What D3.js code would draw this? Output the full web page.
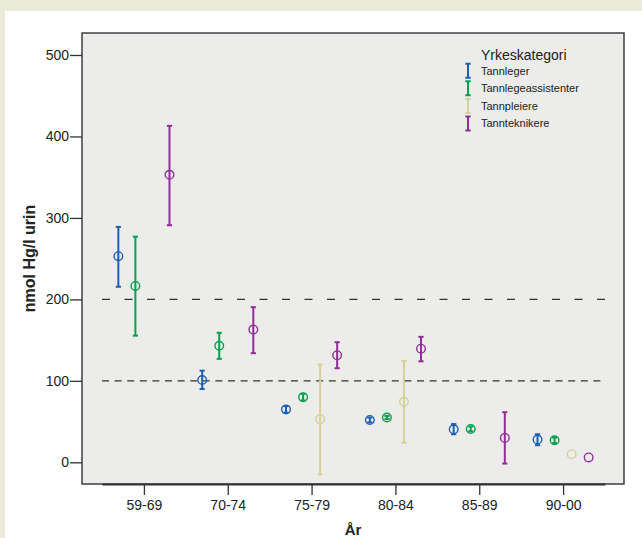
<!DOCTYPE html>
<html>
<head>
<meta charset="utf-8">
<script src="https://cdn.jsdelivr.net/npm/d3@7"></script>
<style>
    body { margin: 0; background: #ecebda; }
    .chart { width: 642px; height: 538px; }
    text { font-family: "Liberation Sans", Arial, sans-serif; fill: #222; }
    .axis text { font-size: 14px; }
    .axis line, .axis path { stroke: #333; }
</style>
</head>
<body>
<div class="chart"></div>
<script>
var categories = ['59-69', '70-74', '75-79', '80-84', '85-89', '90-00'];
var groups = ['Tannleger', 'Tannlegeassistenter', 'Tannpleiere', 'Tannteknikere'];
var colors = ['#1f5fb3', '#0aa04f', '#d6d198', '#912f96'];
var yTicks = [0, 100, 200, 300, 400, 500];
var refLines = [100, 200];

// mean and confidence interval per category, null = no data
var tannlegerMean = [253, 101, 65, 52, 40.5, 28];
var tannlegerLow = [215.5, 90, 61, 49, 34.5, 21];
var tannlegerHigh = [289, 112.5, 69, 55, 47, 34.5];

var assistMean = [216.5, 143, 80, 55, 41, 27];
var assistLow = [155.5, 127, 76, 53, 38, 23.5];
var assistHigh = [277, 159, 84, 57, 44, 30.5];

var pleierMean = [null, null, 53, 74.5, null, 10];
var pleierLow = [null, null, -15, 24, null, 10];
var pleierHigh = [null, null, 120, 124.5, null, 10];

var teknikerMean = [353, 163, 131.5, 139.5, 30, 6];
var teknikerLow = [291, 134, 115.5, 124, -1.5, 6];
var teknikerHigh = [413, 190.5, 147.5, 154, 61.5, 6];

var series = [
    { mean: tannlegerMean, low: tannlegerLow, high: tannlegerHigh },
    { mean: assistMean, low: assistLow, high: assistHigh },
    { mean: pleierMean, low: pleierLow, high: pleierHigh },
    { mean: teknikerMean, low: teknikerLow, high: teknikerHigh }
];

var dim = {
    width: 642, height: 538,
    plot: { left: 82, top: 33, right: 624, bottom: 484 },
    axis: { left: 102, right: 605 }
};

var svg = d3.select('.chart').append('svg')
    .attr('width', dim.width)
    .attr('height', dim.height);

// white panel on the beige page
svg.append('rect')
    .attr('x', 5).attr('y', 11)
    .attr('width', dim.width - 5).attr('height', dim.height - 11)
    .attr('fill', '#fff');

svg.append('rect')
    .attr('x', dim.plot.left).attr('y', dim.plot.top)
    .attr('width', dim.plot.right - dim.plot.left)
    .attr('height', dim.plot.bottom - dim.plot.top)
    .attr('fill', '#ececea')
    .attr('stroke', '#333')
    .attr('stroke-width', 1.4);

var x = d3.scalePoint()
    .domain(categories)
    .range([dim.axis.left, dim.axis.right])
    .padding(0.5);

var xGroup = d3.scalePoint()
    .domain(groups)
    .range([-x.step() * 0.305, x.step() * 0.305]);

var y = d3.scaleLinear()
    .domain([-26.6, 527])
    .range([dim.plot.bottom, dim.plot.top]);

var yAxis = d3.axisLeft(y)
    .tickValues(yTicks)
    .tickSize(12)
    .tickPadding(1);

svg.append('g')
    .attr('class', 'y axis')
    .attr('transform', 'translate(' + dim.plot.left + ',0)')
    .call(yAxis)
    .call(function(g) { g.select('.domain').remove(); })
    .selectAll('line').attr('stroke-width', 1.3);

var xAxis = d3.axisBottom(x)
    .tickSize(11)
    .tickSizeOuter(0)
    .tickPadding(5);

svg.append('g')
    .attr('class', 'x axis')
    .attr('transform', 'translate(0,' + dim.plot.bottom + ')')
    .call(xAxis)
    .call(function(g) {
        g.select('.domain').attr('stroke-width', 2.2);
        g.selectAll('.tick line').attr('stroke-width', 1.3);
    });

svg.selectAll('line.ref')
    .data(refLines)
    .enter()
    .append('line')
    .attr('class', 'ref')
    .attr('x1', dim.axis.left)
    .attr('x2', dim.axis.right)
    .attr('y1', function(d) { return y(d); })
    .attr('y2', function(d) { return y(d); })
    .attr('stroke', '#333')
    .attr('stroke-width', 1.4)
    .attr('stroke-dasharray', function(d) { return d === 200 ? '8,14.5' : '7,5.6'; });

var points = [];
series.forEach(function(s, gi) {
    categories.forEach(function(c, ci) {
        if (s.mean[ci] === null) return;
        points.push({
            cat: c, group: groups[gi], color: colors[gi],
            mean: s.mean[ci], low: s.low[ci], high: s.high[ci]
        });
    });
});

function px(d) { return x(d.cat) + xGroup(d.group); }

var marks = svg.append('g').attr('class', 'marks');

var bars = marks.selectAll('g.errorbar')
    .data(points.filter(function(d) { return d.high > d.low; }))
    .enter()
    .append('g')
    .attr('class', 'errorbar')
    .attr('stroke', function(d) { return d.color; })
    .attr('stroke-width', 2);

bars.append('line')
    .attr('x1', px).attr('x2', px)
    .attr('y1', function(d) { return y(d.low); })
    .attr('y2', function(d) { return y(d.high); });

['low', 'high'].forEach(function(k) {
    bars.append('line')
        .attr('x1', function(d) { return px(d) - 2.6; })
        .attr('x2', function(d) { return px(d) + 2.6; })
        .attr('y1', function(d) { return y(d[k]); })
        .attr('y2', function(d) { return y(d[k]); });
});

marks.selectAll('circle')
    .data(points)
    .enter()
    .append('circle')
    .attr('cx', px)
    .attr('cy', function(d) { return y(d.mean); })
    .attr('r', 4.3)
    .attr('fill', 'none')
    .attr('stroke', function(d) { return d.color; })
    .attr('stroke-width', 1.4);

svg.append('text')
    .attr('transform', 'translate(35,' + ((dim.plot.top + dim.plot.bottom) / 2) + ') rotate(-90)')
    .attr('text-anchor', 'middle')
    .style('font-size', '16px')
    .style('font-weight', 'bold')
    .text('nmol Hg/l urin');

svg.append('text')
    .attr('x', (dim.plot.left + dim.plot.right) / 2)
    .attr('y', 535)
    .attr('text-anchor', 'middle')
    .style('font-size', '15px')
    .style('font-weight', 'bold')
    .text('År');

var legend = svg.append('g')
    .attr('class', 'legend')
    .attr('transform', 'translate(468,0)');

legend.append('text')
    .attr('x', 13)
    .attr('y', 60)
    .style('font-size', '14px')
    .text('Yrkeskategori');

var item = legend.selectAll('g.item')
    .data(groups)
    .enter()
    .append('g')
    .attr('class', 'item')
    .attr('transform', function(d, i) { return 'translate(0,' + (70.7 + i * 17.6) + ')'; });

item.append('path')
    .attr('d', 'M-2.7,-7H2.7M0,-7V7M-2.7,7H2.7')
    .attr('fill', 'none')
    .attr('stroke', function(d, i) { return colors[i]; })
    .attr('stroke-width', 2);

item.append('text')
    .attr('x', 13)
    .attr('dy', '0.35em')
    .style('font-size', '11px')
    .text(function(d) { return d; });
</script>
</body>
</html>
